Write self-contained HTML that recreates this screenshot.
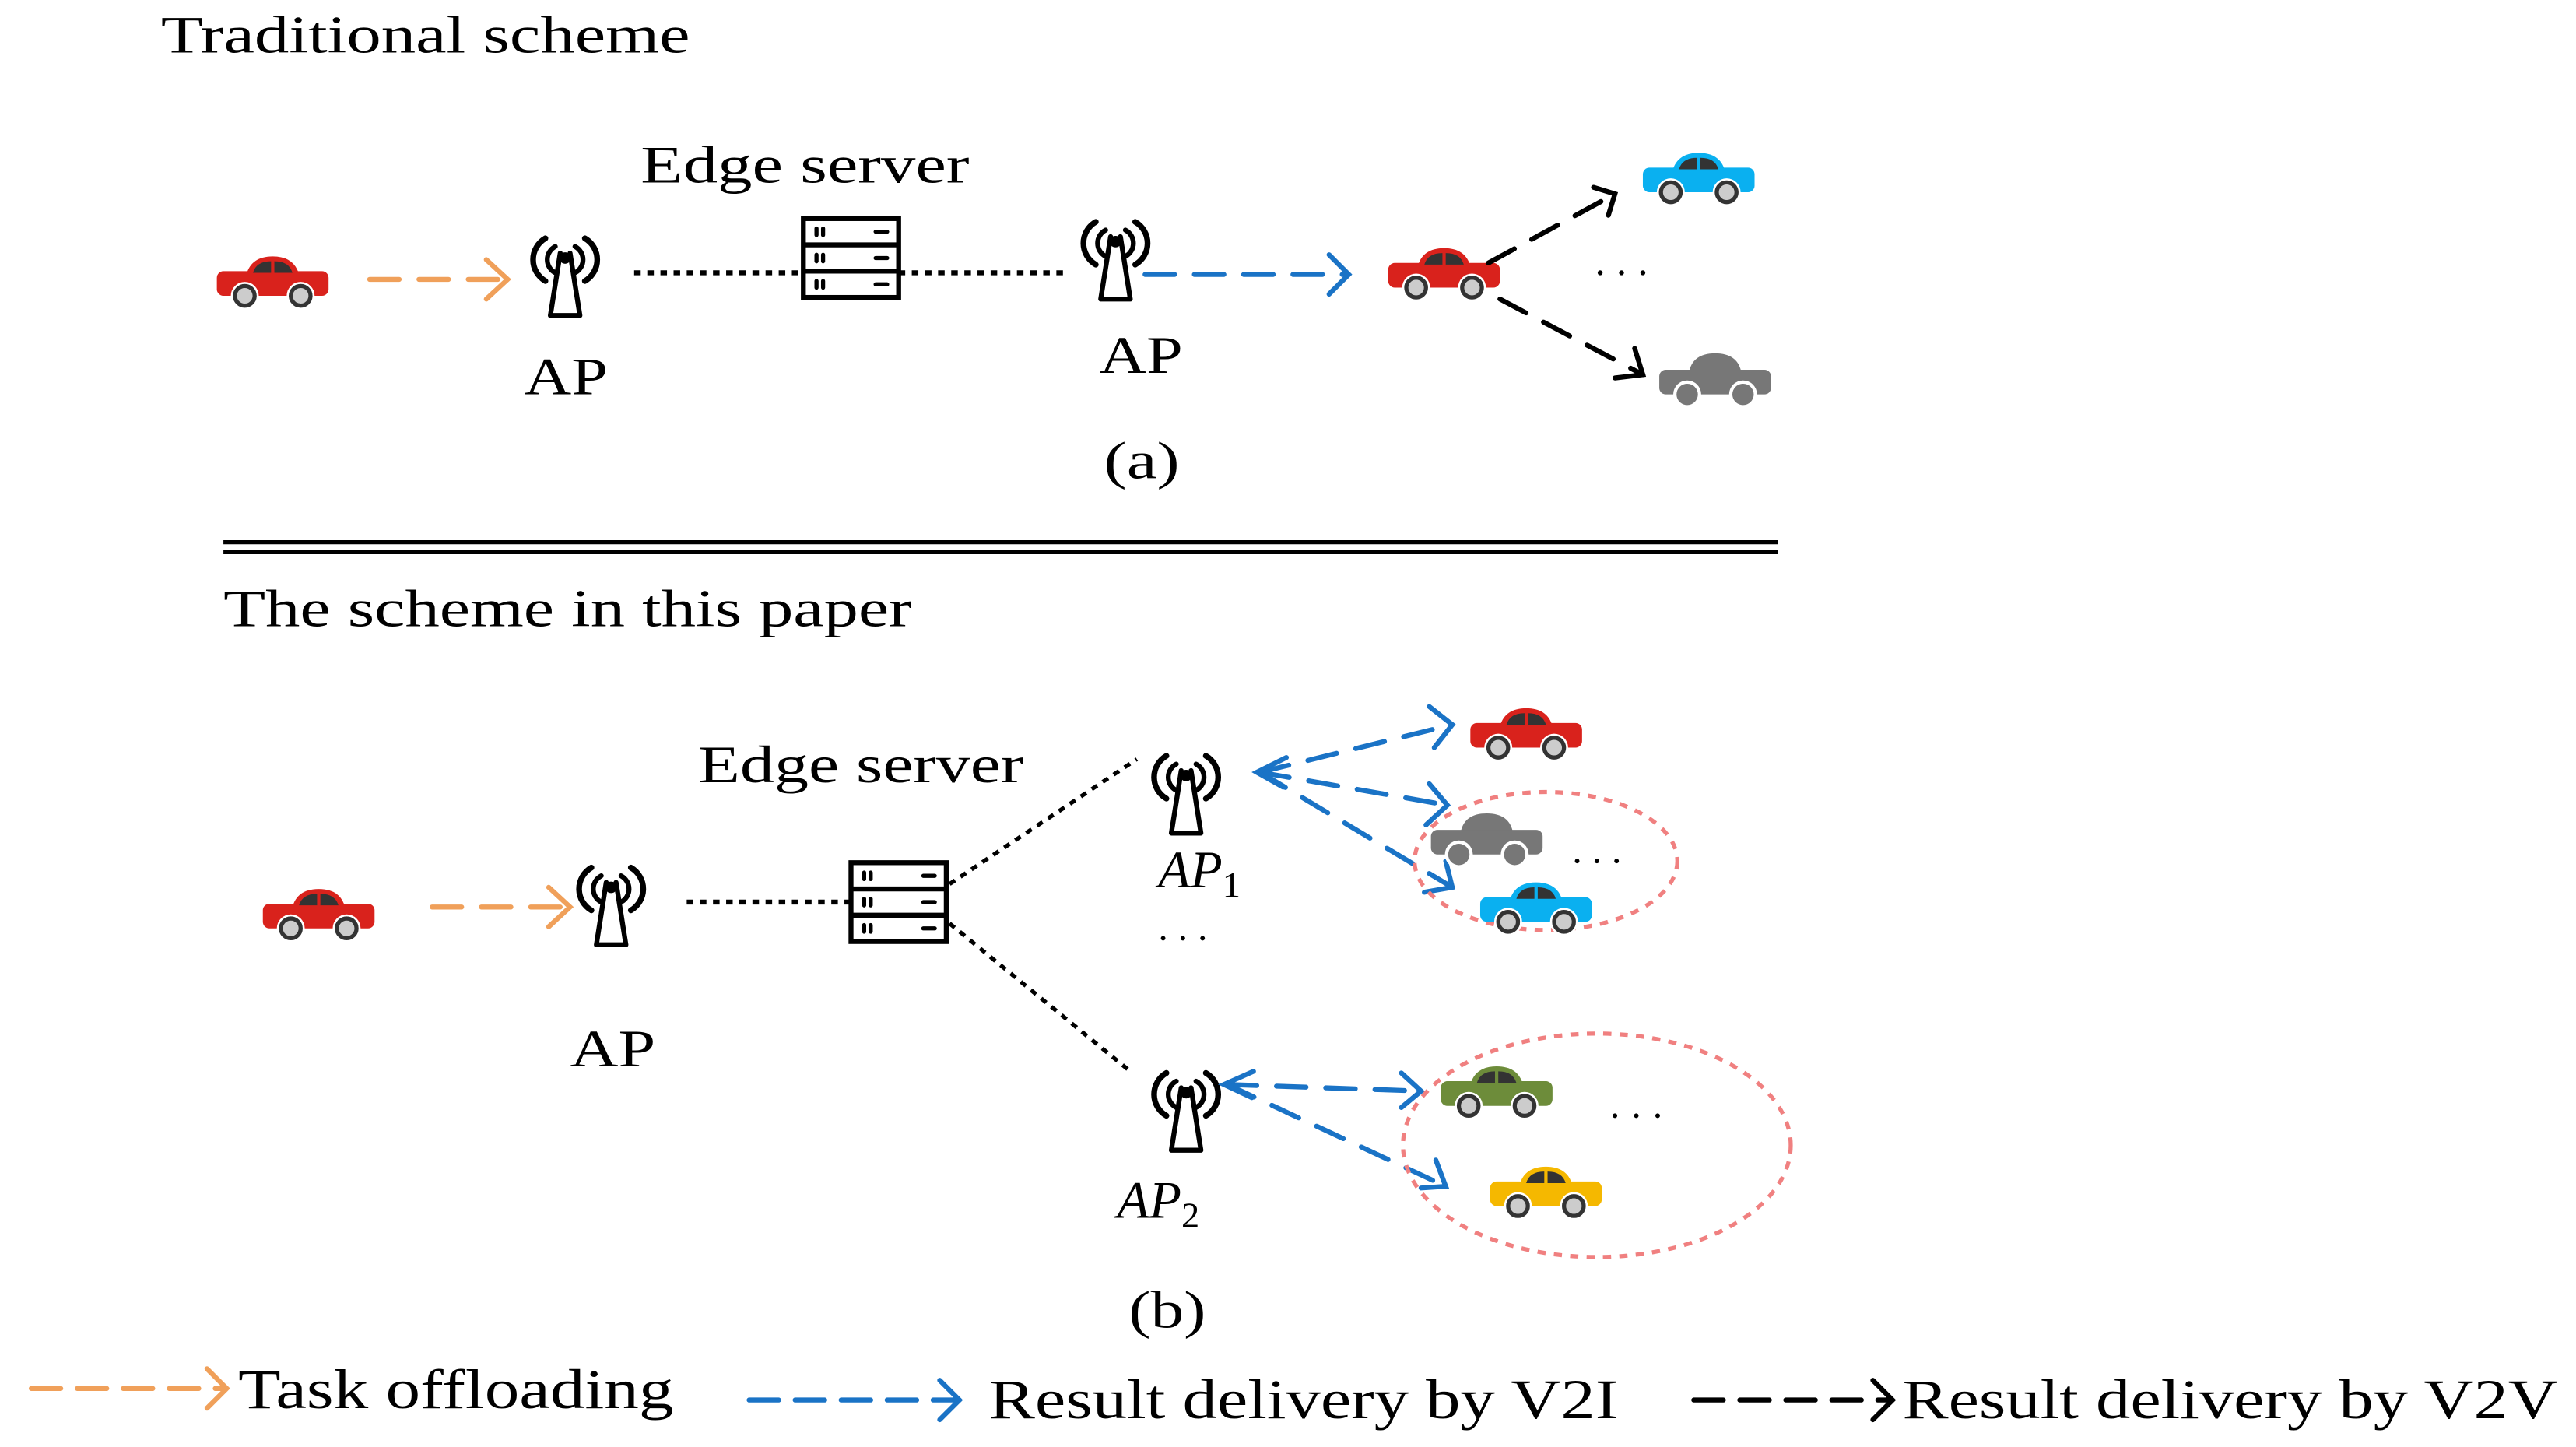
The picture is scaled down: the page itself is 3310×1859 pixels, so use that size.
<!DOCTYPE html>
<html><head><meta charset="utf-8"><style>
html,body{margin:0;padding:0;background:#fff;}
svg{display:block;}
text{font-family:"Liberation Serif",serif;fill:#000;}
</style></head><body>
<svg width="3310" height="1859" viewBox="0 0 1568 880.6" xmlns="http://www.w3.org/2000/svg">
<defs>
<symbol id="ap" overflow="visible">
 <g fill="none" stroke="#000" stroke-linecap="round">
  <path d="M-6,-12 A9,9 0 0 0 -6,4" stroke-width="3"/>
  <path d="M6,-12 A9,9 0 0 1 6,4" stroke-width="3"/>
  <path d="M-12,-17 A15,15 0 0 0 -12,9" stroke-width="3.5"/>
  <path d="M12,-17 A15,15 0 0 1 12,9" stroke-width="3.5"/>
  <path d="M-3,-8 L-9,30 L9,30 L3,-8" stroke-width="3" stroke-linejoin="round"/>
 </g>
 <circle cx="0" cy="-5" r="3.5" fill="#000"/>
</symbol>
<symbol id="srv" overflow="visible">
 <g stroke="#000" fill="#fff" stroke-width="3">
  <rect x="0" y="0" width="58" height="48"/>
  <line x1="0" y1="16" x2="58" y2="16"/><line x1="0" y1="32" x2="58" y2="32"/>
 </g>
 <g stroke="#000" stroke-width="2.5" stroke-linecap="round">
  <line x1="8" y1="6" x2="8" y2="10"/><line x1="12" y1="6" x2="12" y2="10"/><line x1="44" y1="8" x2="51" y2="8"/>
  <line x1="8" y1="22" x2="8" y2="26"/><line x1="12" y1="22" x2="12" y2="26"/><line x1="44" y1="24" x2="51" y2="24"/>
  <line x1="8" y1="38" x2="8" y2="42"/><line x1="12" y1="38" x2="12" y2="42"/><line x1="44" y1="40" x2="51" y2="40"/>
 </g>
</symbol>
</defs>

<!-- (a) -->
<text x="98" y="32" font-size="32" textLength="322" lengthAdjust="spacingAndGlyphs">Traditional scheme</text>
<text x="390" y="111" font-size="32" textLength="200" lengthAdjust="spacingAndGlyphs">Edge server</text>

<g transform="translate(132,156)">
 <path d="M18,11 Q21,0 34,0 Q47,0 50,11 Z" fill="#d9221c"/><rect x="0" y="9" width="68" height="15" rx="4" fill="#d9221c"/>
 <path d="M22,10 Q24,3 33,3 L33,10 Z M35,3 Q44,3 46,10 L35,10 Z" fill="#333"/>
 <circle cx="17" cy="24" r="8.5" fill="#fff"/><circle cx="51" cy="24" r="8.5" fill="#fff"/>
 <circle cx="17" cy="24" r="6" fill="#ccc" stroke="#333" stroke-width="2.5"/><circle cx="51" cy="24" r="6" fill="#ccc" stroke="#333" stroke-width="2.5"/>
</g>
<g stroke="#f0a05a" stroke-width="3" fill="none" stroke-linecap="round">
 <path d="M225,170 H308" stroke-dasharray="18,12"/><path d="M296,158 L309,170 L296,182"/>
</g>
<use href="#ap" x="344" y="162"/>
<text x="319" y="240" font-size="32" textLength="51" lengthAdjust="spacingAndGlyphs">AP</text>
<line x1="386" y1="166" x2="489" y2="166" stroke="#000" stroke-width="3" stroke-dasharray="4,4"/>
<use href="#srv" x="489" y="133"/>
<line x1="547" y1="166" x2="650" y2="166" stroke="#000" stroke-width="3" stroke-dasharray="4,4"/>
<use href="#ap" x="679" y="152"/>
<text x="669" y="227" font-size="32" textLength="51" lengthAdjust="spacingAndGlyphs">AP</text>
<g stroke="#1a73c6" stroke-width="3" fill="none" stroke-linecap="round">
 <path d="M697,167 H820" stroke-dasharray="18,12"/><path d="M809,155 L821,167 L809,179"/>
</g>
<g transform="translate(845,151)">
 <path d="M18,11 Q21,0 34,0 Q47,0 50,11 Z" fill="#d9221c"/><rect x="0" y="9" width="68" height="15" rx="4" fill="#d9221c"/>
 <path d="M22,10 Q24,3 33,3 L33,10 Z M35,3 Q44,3 46,10 L35,10 Z" fill="#333"/>
 <circle cx="17" cy="24" r="8.5" fill="#fff"/><circle cx="51" cy="24" r="8.5" fill="#fff"/>
 <circle cx="17" cy="24" r="6" fill="#ccc" stroke="#333" stroke-width="2.5"/><circle cx="51" cy="24" r="6" fill="#ccc" stroke="#333" stroke-width="2.5"/>
</g>
<g stroke="#000" stroke-width="3" fill="none" stroke-linecap="round">
 <path d="M906,160 L983,118" stroke-dasharray="18,12"/><path d="M970,114 L983,118 L979,131"/>
 <path d="M913,182 L1000,228" stroke-dasharray="18,12"/><path d="M983,230 L1000,228 L995,212"/>
</g>
<g transform="translate(1000,93)">
 <path d="M18,11 Q21,0 34,0 Q47,0 50,11 Z" fill="#0ab0f0"/><rect x="0" y="9" width="68" height="15" rx="4" fill="#0ab0f0"/>
 <path d="M22,10 Q24,3 33,3 L33,10 Z M35,3 Q44,3 46,10 L35,10 Z" fill="#333"/>
 <circle cx="17" cy="24" r="8.5" fill="#fff"/><circle cx="51" cy="24" r="8.5" fill="#fff"/>
 <circle cx="17" cy="24" r="6" fill="#ccc" stroke="#333" stroke-width="2.5"/><circle cx="51" cy="24" r="6" fill="#ccc" stroke="#333" stroke-width="2.5"/>
</g>
<g transform="translate(1010,215)">
 <path d="M18,12 Q20,0 34,0 Q48,0 50,12 Z" fill="#777"/><rect x="0" y="10" width="68" height="15" rx="4" fill="#777"/>
 <circle cx="17" cy="25" r="8.5" fill="#fff"/><circle cx="51" cy="25" r="8.5" fill="#fff"/>
 <circle cx="17" cy="25" r="6.5" fill="#777"/><circle cx="51" cy="25" r="6.5" fill="#777"/>
</g>
<g fill="#000"><circle cx="974" cy="166" r="1.5"/><circle cx="987" cy="166" r="1.5"/><circle cx="1000" cy="166" r="1.5"/></g>
<text x="672" y="291" font-size="32" textLength="46" lengthAdjust="spacingAndGlyphs">(a)</text>

<line x1="136" y1="330" x2="1082" y2="330" stroke="#000" stroke-width="2.5"/>
<line x1="136" y1="336" x2="1082" y2="336" stroke="#000" stroke-width="2.5"/>

<!-- (b) -->
<text x="136" y="381" font-size="32" textLength="419" lengthAdjust="spacingAndGlyphs">The scheme in this paper</text>
<text x="425" y="476" font-size="32" textLength="198" lengthAdjust="spacingAndGlyphs">Edge server</text>
<g transform="translate(160,541)">
 <path d="M18,11 Q21,0 34,0 Q47,0 50,11 Z" fill="#d9221c"/><rect x="0" y="9" width="68" height="15" rx="4" fill="#d9221c"/>
 <path d="M22,10 Q24,3 33,3 L33,10 Z M35,3 Q44,3 46,10 L35,10 Z" fill="#333"/>
 <circle cx="17" cy="24" r="8.5" fill="#fff"/><circle cx="51" cy="24" r="8.5" fill="#fff"/>
 <circle cx="17" cy="24" r="6" fill="#ccc" stroke="#333" stroke-width="2.5"/><circle cx="51" cy="24" r="6" fill="#ccc" stroke="#333" stroke-width="2.5"/>
</g>
<g stroke="#f0a05a" stroke-width="3" fill="none" stroke-linecap="round">
 <path d="M263,552 H346" stroke-dasharray="18,12"/><path d="M334,540 L347,552 L334,564"/>
</g>
<use href="#ap" x="372" y="545"/>
<text x="347" y="649" font-size="32" textLength="52" lengthAdjust="spacingAndGlyphs">AP</text>
<line x1="418" y1="549" x2="518" y2="549" stroke="#000" stroke-width="3" stroke-dasharray="4,4"/>
<use href="#srv" x="518" y="525"/>
<line x1="578" y1="538" x2="692" y2="462" stroke="#000" stroke-width="2.5" stroke-dasharray="4,4"/>
<line x1="578" y1="562" x2="688" y2="652" stroke="#000" stroke-width="2.5" stroke-dasharray="4,4"/>
<use href="#ap" x="722" y="477"/>
<text x="705" y="540" font-size="32" font-style="italic">AP<tspan font-size="22" dy="6" font-style="normal">1</tspan></text>
<g fill="#000"><circle cx="708" cy="571" r="1.4"/><circle cx="720" cy="571" r="1.4"/><circle cx="732" cy="571" r="1.4"/></g>
<use href="#ap" x="722" y="670"/>
<text x="680" y="741" font-size="32" font-style="italic">AP<tspan font-size="22" dy="6" font-style="normal">2</tspan></text>

<g stroke="#1a73c6" stroke-width="3" fill="none" stroke-linecap="round">
 <path d="M767,470 L884,441" stroke-dasharray="18,12"/><path d="M870,430 L884,441 L873,455"/>
 <path d="M767,470 L881,490" stroke-dasharray="18,12"/><path d="M870,477 L881,490 L868,502"/>
 <path d="M767,470 L884,540" stroke-dasharray="18,12"/><path d="M867,543 L884,540 L880,524"/>
 <path d="M783,461 L765,470 L781,479"/>
 <path d="M747,660 L865,664" stroke-dasharray="18,12"/><path d="M853,653 L865,664 L853,674"/>
 <path d="M747,660 L880,722" stroke-dasharray="18,12"/><path d="M865,723 L880,722 L874,706"/>
 <path d="M763,652 L745,660 L762,668"/>
</g>
<ellipse cx="941" cy="524" rx="80" ry="42" fill="none" stroke="#f08080" stroke-width="2.5" stroke-dasharray="5,5"/>
<ellipse cx="972" cy="697" rx="118" ry="68" fill="none" stroke="#f08080" stroke-width="2.5" stroke-dasharray="5,5"/>

<g transform="translate(895,431)">
 <path d="M18,11 Q21,0 34,0 Q47,0 50,11 Z" fill="#d9221c"/><rect x="0" y="9" width="68" height="15" rx="4" fill="#d9221c"/>
 <path d="M22,10 Q24,3 33,3 L33,10 Z M35,3 Q44,3 46,10 L35,10 Z" fill="#333"/>
 <circle cx="17" cy="24" r="8.5" fill="#fff"/><circle cx="51" cy="24" r="8.5" fill="#fff"/>
 <circle cx="17" cy="24" r="6" fill="#ccc" stroke="#333" stroke-width="2.5"/><circle cx="51" cy="24" r="6" fill="#ccc" stroke="#333" stroke-width="2.5"/>
</g>
<g transform="translate(871,495)">
 <path d="M18,12 Q20,0 34,0 Q48,0 50,12 Z" fill="#777"/><rect x="0" y="10" width="68" height="15" rx="4" fill="#777"/>
 <circle cx="17" cy="25" r="8.5" fill="#fff"/><circle cx="51" cy="25" r="8.5" fill="#fff"/>
 <circle cx="17" cy="25" r="6.5" fill="#777"/><circle cx="51" cy="25" r="6.5" fill="#777"/>
</g>
<g transform="translate(901,537)">
 <path d="M18,11 Q21,0 34,0 Q47,0 50,11 Z" fill="#0ab0f0"/><rect x="0" y="9" width="68" height="15" rx="4" fill="#0ab0f0"/>
 <path d="M22,10 Q24,3 33,3 L33,10 Z M35,3 Q44,3 46,10 L35,10 Z" fill="#333"/>
 <circle cx="17" cy="24" r="8.5" fill="#fff"/><circle cx="51" cy="24" r="8.5" fill="#fff"/>
 <circle cx="17" cy="24" r="6" fill="#ccc" stroke="#333" stroke-width="2.5"/><circle cx="51" cy="24" r="6" fill="#ccc" stroke="#333" stroke-width="2.5"/>
</g>
<g fill="#000"><circle cx="960" cy="524" r="1.4"/><circle cx="972" cy="524" r="1.4"/><circle cx="984" cy="524" r="1.4"/></g>
<g transform="translate(877,649)">
 <path d="M18,11 Q21,0 34,0 Q47,0 50,11 Z" fill="#6d8c3a"/><rect x="0" y="9" width="68" height="15" rx="4" fill="#6d8c3a"/>
 <path d="M22,10 Q24,3 33,3 L33,10 Z M35,3 Q44,3 46,10 L35,10 Z" fill="#333"/>
 <circle cx="17" cy="24" r="8.5" fill="#fff"/><circle cx="51" cy="24" r="8.5" fill="#fff"/>
 <circle cx="17" cy="24" r="6" fill="#ccc" stroke="#333" stroke-width="2.5"/><circle cx="51" cy="24" r="6" fill="#ccc" stroke="#333" stroke-width="2.5"/>
</g>
<g transform="translate(907,710)">
 <path d="M18,11 Q21,0 34,0 Q47,0 50,11 Z" fill="#f5b800"/><rect x="0" y="9" width="68" height="15" rx="4" fill="#f5b800"/>
 <path d="M22,10 Q24,3 33,3 L33,10 Z M35,3 Q44,3 46,10 L35,10 Z" fill="#333"/>
 <circle cx="17" cy="24" r="8.5" fill="#fff"/><circle cx="51" cy="24" r="8.5" fill="#fff"/>
 <circle cx="17" cy="24" r="6" fill="#ccc" stroke="#333" stroke-width="2.5"/><circle cx="51" cy="24" r="6" fill="#ccc" stroke="#333" stroke-width="2.5"/>
</g>
<g fill="#000"><circle cx="983" cy="679" r="1.4"/><circle cx="996" cy="679" r="1.4"/><circle cx="1009" cy="679" r="1.4"/></g>
<text x="687" y="808" font-size="32" textLength="47" lengthAdjust="spacingAndGlyphs">(b)</text>

<!-- legend -->
<g stroke-width="3" fill="none" stroke-linecap="round">
 <path d="M19,845 H136" stroke="#f0a05a" stroke-dasharray="18,10"/><path d="M126,833 L138,845 L126,857" stroke="#f0a05a"/>
 <path d="M456,852 H584" stroke="#1a73c6" stroke-dasharray="18,10"/><path d="M572,840 L584,852 L572,864" stroke="#1a73c6"/>
 <path d="M1031,852 H1150" stroke="#000" stroke-dasharray="18,10"/><path d="M1140,840 L1152,852 L1140,864" stroke="#000"/>
</g>
<text x="145" y="857" font-size="34" textLength="265" lengthAdjust="spacingAndGlyphs">Task offloading</text>
<text x="602" y="863" font-size="34" textLength="383" lengthAdjust="spacingAndGlyphs">Result delivery by V2I</text>
<text x="1158" y="863" font-size="34" textLength="399" lengthAdjust="spacingAndGlyphs">Result delivery by V2V</text>
</svg>
</body></html>
